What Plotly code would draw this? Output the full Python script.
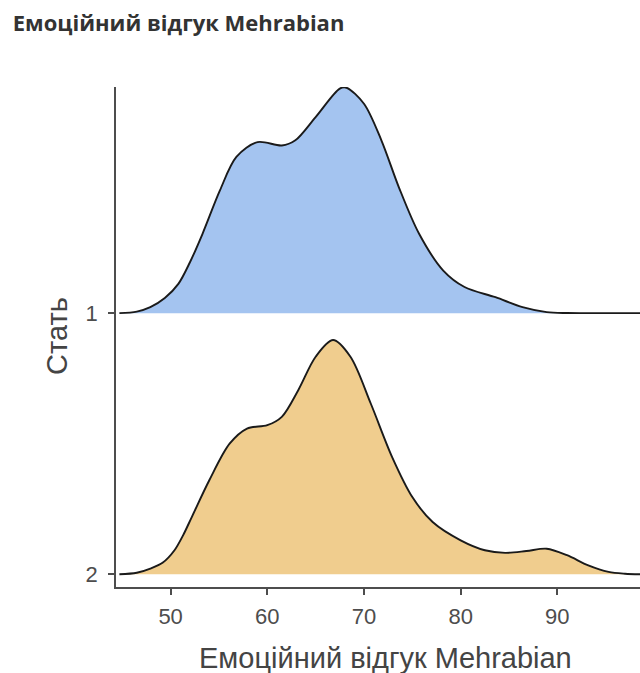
import plotly.graph_objects as go

# Ridge density outlines for each group (x = score, h = scaled density height)
group_labels = ["1", "2"]
group_offsets = [1, 0]

x_g1 = [44.7, 46.5, 47.9, 49.4, 50.8, 52.0, 53.3, 55.1, 56.8, 59.0, 61.5, 62.9, 65.0,
        67.5, 68.2, 70.0, 71.8, 73.6, 75.7, 78.2, 80.4, 83.6, 86.4, 88.9, 91.0, 94.0,
        97.0, 100.0]
h_g1 = [0.0, 0.006, 0.023, 0.058, 0.112, 0.195, 0.304, 0.470, 0.598, 0.655, 0.642, 0.662,
        0.751, 0.860, 0.863, 0.802, 0.662, 0.483, 0.304, 0.163, 0.100, 0.061, 0.023,
        0.004, 0.0005, 0.0, 0.0, 0.0]

x_g2 = [44.7, 46.5, 47.9, 49.2, 50.4, 51.3, 52.2, 54.0, 56.1, 57.9, 60.0, 61.5, 63.2,
        65.0, 66.8, 68.6, 70.7, 72.9, 75.0, 77.1, 80.0, 82.5, 84.6, 86.8, 88.9, 91.0,
        93.2, 95.3, 97.0, 98.5, 100.0]
h_g2 = [0.0, 0.006, 0.022, 0.045, 0.092, 0.150, 0.220, 0.360, 0.500, 0.558, 0.571, 0.603,
        0.705, 0.833, 0.897, 0.833, 0.654, 0.450, 0.296, 0.200, 0.130, 0.092, 0.082,
        0.089, 0.098, 0.073, 0.034, 0.009, 0.002, 0.0, 0.0]

fill_colors = ["#A4C4F0", "#F0CD8E"]
x_ticks = [50, 60, 70, 80, 90]

fig = go.Figure()

for xs, hs, off, col in [(x_g1, h_g1, group_offsets[0], fill_colors[0]),
                         (x_g2, h_g2, group_offsets[1], fill_colors[1])]:
    ys = [off + h for h in hs]
    # baseline for the fill
    fig.add_trace(go.Scatter(x=[xs[0], xs[-1]], y=[off, off], mode="lines",
                             line=dict(width=0), hoverinfo="skip", showlegend=False))
    # filled ridge
    fig.add_trace(go.Scatter(x=xs, y=ys, mode="lines",
                             line=dict(width=0, shape="spline", smoothing=0.9),
                             fill="tonexty", fillcolor=col, hoverinfo="skip",
                             showlegend=False))
    # outline
    fig.add_trace(go.Scatter(x=xs, y=ys, mode="lines",
                             line=dict(color="#1a1a1a", width=1.9, shape="spline", smoothing=0.9),
                             showlegend=False))

axis_font = dict(family="Liberation Sans, Arial, sans-serif", size=22, color="#4d4d4d")
title_font = dict(family="Liberation Sans, Arial, sans-serif", size=29, color="#444444")

fig.update_layout(
    width=640, height=673,
    margin=dict(l=116, r=0, t=87, b=86),
    paper_bgcolor="white", plot_bgcolor="white",
    title=dict(text="<b>Емоційний відгук Mehrabian</b>", xref="container", yref="container",
               x=0.02, xanchor="left", y=1 - 23 / 673, yanchor="middle",
               font=dict(family="Open Sans, Noto Sans, sans-serif", size=22, color="#333333")),
    xaxis=dict(range=[44.35, 98.55], tickvals=x_ticks, ticktext=[str(v) for v in x_ticks],
               showgrid=False, zeroline=False, showline=True, linecolor="#4d4d4d", linewidth=1.8,
               ticks="outside", ticklen=6, tickwidth=1.8, tickcolor="#4d4d4d",
               tickfont=axis_font, ticklabelstandoff=3),
    yaxis=dict(range=[-0.0487, 1.866], tickvals=group_offsets, ticktext=group_labels,
               showgrid=False, zeroline=False, showline=True, linecolor="#4d4d4d", linewidth=1.8,
               ticks="outside", ticklen=6, tickwidth=1.8, tickcolor="#4d4d4d",
               tickfont=axis_font, ticklabelstandoff=6),
    annotations=[
        dict(text="Емоційний відгук Mehrabian", xref="paper", yref="paper",
             x=(385 - 116) / 524, y=-(658 - 587) / 500, xanchor="center", yanchor="middle",
             showarrow=False, font=title_font),
        dict(text="Стать", xref="paper", yref="paper", textangle=-90,
             x=-(116 - 57) / 524, y=(587 - 336) / 500, xanchor="center", yanchor="middle",
             showarrow=False, font=title_font),
    ],
)

fig.write_html("out.html")
